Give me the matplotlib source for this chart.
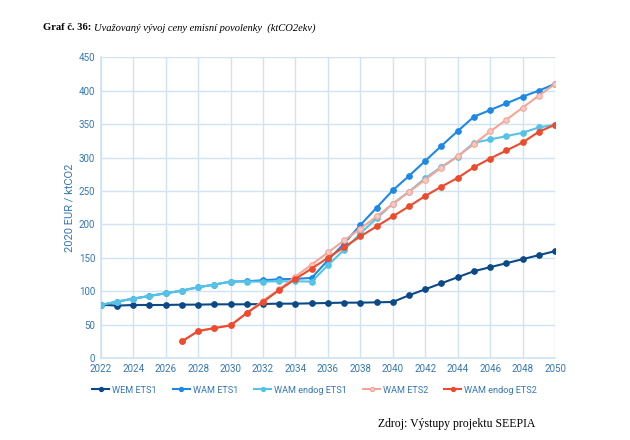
import matplotlib
matplotlib.use("Agg")
import matplotlib.pyplot as plt

years = list(range(2022, 2051))

wem_ets1 = [80, 78.5, 79.5, 79.5, 79.5, 80, 80, 80.5, 80.5, 80.5, 81, 81.5, 81.5, 82,
            82.5, 83, 83, 83.5, 84, 94, 103, 112, 121, 130, 136, 142, 148, 154, 160]
wam_ets1 = [79.5, 84.5, 89, 93, 97, 101, 106, 110, 114.5, 115, 116.5, 118, 118.5, 120,
            146.5, 171.5, 199, 225, 251, 272.5, 295, 317.5, 339.5, 361, 371, 381, 391, 400, 410]
wam_endog_ets1 = [79.5, 84.5, 89, 93, 97, 101, 106, 110, 114.5, 114.5, 114.5, 115, 115, 114.5,
                  139, 162, 186.5, 209, 231, 249, 269, 286, 301.5, 322, 327, 332, 337, 345, 349]
ets2_years = list(range(2027, 2051))
wam_ets2 = [25, 40.5, 45, 49, 67.5, 86, 103, 122, 140, 158, 176, 193.5, 212, 230.5,
            248.5, 267, 285, 302, 320, 339, 356.5, 374.5, 392.5, 410]
wam_endog_ets2 = [25, 40.5, 45, 49, 67.5, 84, 102, 118.5, 134, 150, 166, 182, 197, 212,
                  227, 242.5, 256.5, 269.5, 285.5, 298.5, 310.5, 322.5, 338.5, 349]

labels = ["WEM ETS1", "WAM ETS1", "WAM endog ETS1", "WAM ETS2", "WAM endog ETS2"]
colors = ["#0B4A86", "#1E88E5", "#55C3E6", "#F4A598", "#EE4A2C"]
xticks = list(range(2022, 2051, 2))
yticks = list(range(0, 451, 50))

plt.rcParams['font.family'] = ['Roboto', 'DejaVu Sans']
tick_color = "#3577B5"
grid_color = "#CFE3F2"
serif = ['Liberation Serif', 'DejaVu Serif']

fig = plt.figure(figsize=(6.3, 4.4), dpi=100)
ax = fig.add_axes([0.160, 0.186, 0.721, 0.684])

series = [(years, wem_ets1), (years, wam_ets1), (years, wam_endog_ets1),
          (ets2_years, wam_ets2), (ets2_years, wam_endog_ets2)]
for i, ((xs, ys), lab, c) in enumerate(zip(series, labels, colors)):
    mfc = c
    if lab == "WAM ETS2":
        mfc = "#F9C9C0"
    ax.plot(xs, ys, color=c, lw=1.5, marker='o', ms=4, mfc=mfc, mec=c, mew=0.8,
            label=lab, zorder=3 + i)

ax.set_xlim(2022, 2050)
ax.set_ylim(0, 450)
ax.set_xticks(xticks)
ax.set_yticks(yticks)
ax.grid(True, color=grid_color, lw=1)
ax.set_axisbelow(True)
for s in ["top", "right"]:
    ax.spines[s].set_visible(False)
for s in ["left", "bottom"]:
    ax.spines[s].set_color(grid_color)
    ax.spines[s].set_linewidth(1.2)
ax.tick_params(axis='both', length=0, labelsize=7, colors=tick_color, pad=4)
ax.set_ylabel("2020 EUR / ktCO2", fontsize=8, color=tick_color, labelpad=3)

leg = ax.legend(loc='center', bbox_to_anchor=(0.471, -0.106), ncol=5, frameon=False,
                fontsize=6.6, handlelength=1.85, handletextpad=0.33, columnspacing=1.75,
                markerscale=0.75, borderaxespad=0, borderpad=0)
for t in leg.get_texts():
    t.set_color(tick_color)

fig.text(0.068, 0.937, "Graf č. 36:", fontsize=7.6, fontweight='bold',
         family=serif, va='center', ha='left')
fig.text(0.150, 0.937, "Uvažovaný vývoj ceny emisní povolenky  (ktCO2ekv)", fontsize=7.6,
         style='italic', family=serif, va='center', ha='left')
fig.text(0.600, 0.037, "Zdroj: Výstupy projektu SEEPIA", fontsize=8.5,
         family=serif, va='center', ha='left')

fig.savefig("out.png", dpi=100)
